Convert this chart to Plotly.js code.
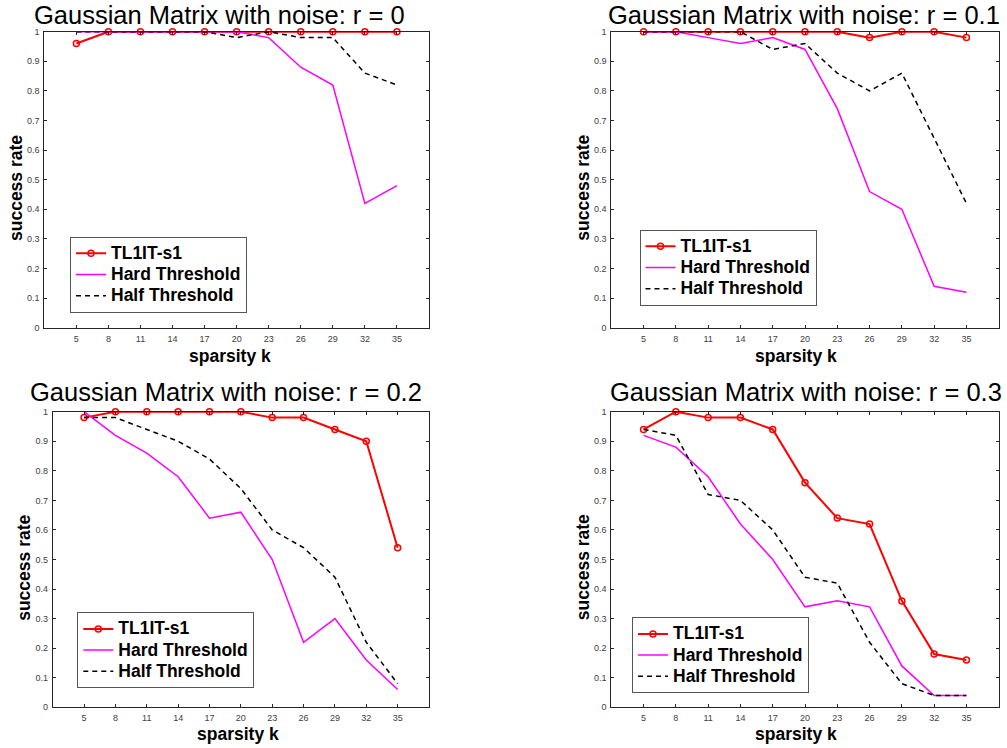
<!DOCTYPE html>
<html>
<head>
<meta charset="utf-8">
<script src="https://cdn.plot.ly/plotly-3.0.1.min.js"></script>
<style>html,body{margin:0;padding:0;background:#fff;}#chart{width:1007px;height:748px;}</style>
</head>
<body>
<div id="chart"></div>
<script>
// ---- data ----
const sparsityK = [5, 8, 11, 14, 17, 20, 23, 26, 29, 32, 35];
const xTickLabels = ['5', '8', '11', '14', '17', '20', '23', '26', '29', '32', '35'];
const yTickVals = [0, 0.1, 0.2, 0.3, 0.4, 0.5, 0.6, 0.7, 0.8, 0.9, 1];
const yTickLabels = ['0', '0.1', '0.2', '0.3', '0.4', '0.5', '0.6', '0.7', '0.8', '0.9', '1'];
const seriesNames = ['TL1IT-s1', 'Hard Threshold', 'Half Threshold'];
const panelTitles = [
  'Gaussian Matrix with noise: r = 0',
  'Gaussian Matrix with noise: r = 0.1',
  'Gaussian Matrix with noise: r = 0.2',
  'Gaussian Matrix with noise: r = 0.3'
];
const xLabel = 'sparsity k';
const yLabel = 'success rate';

// r = 0
const r0_tl1it = [0.96, 1, 1, 1, 1, 1, 1, 1, 1, 1, 1];
const r0_hard  = [1, 1, 1, 1, 1, 1, 0.98, 0.88, 0.82, 0.42, 0.48];
const r0_half  = [1, 1, 1, 1, 1, 0.98, 1, 0.98, 0.98, 0.86, 0.82];
// r = 0.1
const r1_tl1it = [1, 1, 1, 1, 1, 1, 1, 0.98, 1, 1, 0.98];
const r1_hard  = [1, 1, 0.98, 0.96, 0.98, 0.94, 0.74, 0.46, 0.40, 0.14, 0.12];
const r1_half  = [1, 1, 1, 1, 0.94, 0.96, 0.86, 0.80, 0.86, 0.64, 0.42];
// r = 0.2
const r2_tl1it = [0.98, 1, 1, 1, 1, 1, 0.98, 0.98, 0.94, 0.90, 0.54];
const r2_hard  = [1, 0.92, 0.86, 0.78, 0.64, 0.66, 0.50, 0.22, 0.30, 0.16, 0.06];
const r2_half  = [0.98, 0.98, 0.94, 0.90, 0.84, 0.74, 0.60, 0.54, 0.44, 0.22, 0.08];
// r = 0.3
const r3_tl1it = [0.94, 1, 0.98, 0.98, 0.94, 0.76, 0.64, 0.62, 0.36, 0.18, 0.16];
const r3_hard  = [0.92, 0.88, 0.78, 0.62, 0.50, 0.34, 0.36, 0.34, 0.14, 0.04, 0.04];
const r3_half  = [0.94, 0.92, 0.72, 0.70, 0.60, 0.44, 0.42, 0.22, 0.08, 0.04, 0.04];

// ---- layout helpers ----
const W = 1007, H = 748;
const px = v => v / W;
const py = v => 1 - v / H;
const FONT = 'Liberation Sans, Arial, sans-serif';

const panels = [
  {series: [r0_tl1it, r0_hard, r0_half], xs: '', box: [44.3, 429, 31.7, 327.7],
   title: [219, 15], ylab: [16, 188], xlab: [229.5, 355.5], leg: [70, 236.7]},
  {series: [r1_tl1it, r1_hard, r1_half], xs: '2', box: [611.3, 998.7, 31.7, 327.7],
   title: [804, 15], ylab: [582.7, 188], xlab: [796, 355.5], leg: [639.5, 229.7]},
  {series: [r2_tl1it, r2_hard, r2_half], xs: '3', box: [52.7, 429, 411.7, 707.3],
   title: [226, 391.5], ylab: [23.3, 567.5], xlab: [237.5, 734], leg: [77.3, 612.3]},
  {series: [r3_tl1it, r3_hard, r3_half], xs: '4', box: [611.3, 998.7, 411.7, 707.3],
   title: [806, 391.5], ylab: [582.7, 567.5], xlab: [795.8, 734], leg: [632, 617.3]}
];

const styles = [
  {mode: 'lines+markers', line: {color: '#ff0000', width: 2},
   marker: {symbol: 'circle-open', size: 6, color: '#ff0000', line: {width: 1.5, color: '#ff0000'}}},
  {mode: 'lines', line: {color: '#ff00ff', width: 1.5}},
  {mode: 'lines', line: {color: '#000000', width: 1.5, dash: '5px,4px'}}
];

const traces = [];
const layout = {
  width: W, height: H,
  margin: {l: 0, r: 0, t: 0, b: 0},
  paper_bgcolor: '#ffffff', plot_bgcolor: '#ffffff',
  showlegend: true,
  annotations: [],
  font: {family: FONT}
};

panels.forEach((p, i) => {
  const xa = 'x' + p.xs, ya = 'y' + p.xs;
  const legName = 'legend' + p.xs;
  p.series.forEach((vals, j) => {
    traces.push(Object.assign({
      x: sparsityK, y: vals,
      name: '<span style="font-size:17.5px">' + seriesNames[j] + '</span>',
      xaxis: xa, yaxis: ya, legend: legName, cliponaxis: false,
      hoverinfo: 'skip'
    }, JSON.parse(JSON.stringify(styles[j]))));
  });
  const axCommon = {
    showgrid: false, zeroline: false, showline: true, linecolor: '#262626', linewidth: 1,
    mirror: 'ticks', ticks: 'inside', ticklen: 3, tickwidth: 1, tickcolor: '#262626',
    tickfont: {family: FONT, size: 9, color: '#404040'},
    fixedrange: true
  };
  layout['xaxis' + p.xs] = Object.assign({}, axCommon, {
    domain: [px(p.box[0]), px(p.box[1])], anchor: ya, range: [2, 38],
    tickmode: 'array', tickvals: sparsityK, ticktext: xTickLabels, ticklabelstandoff: 2
  });
  layout['yaxis' + p.xs] = Object.assign({}, axCommon, {
    domain: [py(p.box[3]), py(p.box[2])], anchor: xa, range: [0, 1],
    tickmode: 'array', tickvals: yTickVals, ticktext: yTickLabels, ticklabelstandoff: 2
  });
  layout[legName] = {
    x: px(p.leg[0]), y: py(p.leg[1]), xanchor: 'left', yanchor: 'top',
    xref: 'paper', yref: 'paper',
    bgcolor: '#ffffff', bordercolor: '#555555', borderwidth: 1,
    font: {family: FONT, size: 14, color: '#000000', weight: 'bold'},
    tracegroupgap: 0, itemwidth: 30
  };
  layout.annotations.push({
    text: panelTitles[i], xref: 'paper', yref: 'paper', x: px(p.title[0]), y: py(p.title[1]),
    xanchor: 'center', yanchor: 'middle', showarrow: false,
    font: {family: FONT, size: 25.5, color: '#000000'}
  });
  layout.annotations.push({
    text: yLabel, xref: 'paper', yref: 'paper', x: px(p.ylab[0]), y: py(p.ylab[1]),
    xanchor: 'center', yanchor: 'middle', showarrow: false, textangle: -90,
    font: {family: FONT, size: 17.5, color: '#000000', weight: 'bold'}
  });
  layout.annotations.push({
    text: xLabel, xref: 'paper', yref: 'paper', x: px(p.xlab[0]), y: py(p.xlab[1]),
    xanchor: 'center', yanchor: 'middle', showarrow: false,
    font: {family: FONT, size: 17.5, color: '#000000', weight: 'bold'}
  });
});

Plotly.newPlot('chart', traces, layout, {staticPlot: true, displayModeBar: false});
</script>
</body>
</html>
